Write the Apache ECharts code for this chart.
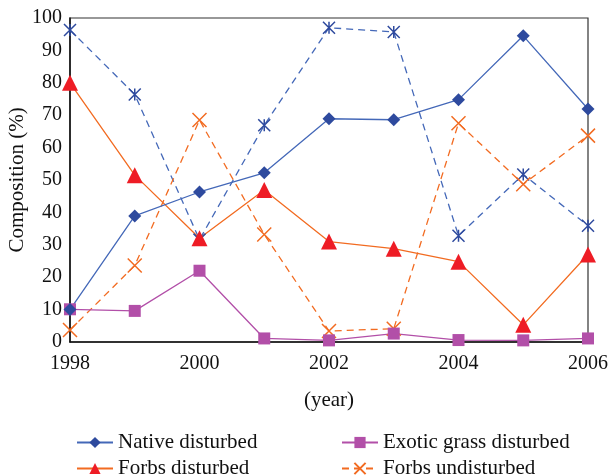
<!DOCTYPE html>
<html><head><meta charset="utf-8">
<script src="https://cdn.jsdelivr.net/npm/echarts@6/dist/echarts.min.js"></script>
<style>html,body{margin:0;padding:0;background:#fff}#c{width:609px;height:476px}</style>
</head><body><div id="c"></div>
<script>
const years = [1998, 1999, 2000, 2001, 2002, 2003, 2004, 2005, 2006];
const nativeDisturbed = [10, 38.9, 46.3, 52.2, 68.9, 68.6, 74.8, 94.5, 71.9];
const forbsDisturbed = [80, 51.5, 32, 46.9, 31, 28.8, 24.8, 5.3, 27];
const exoticGrassDisturbed = [10.1, 9.6, 22, 1.1, 0.5, 2.6, 0.6, 0.5, 1.1];
const forbsUndisturbed = [3.7, 23.6, 68.5, 33.2, 3.4, 4.1, 67.5, 48.7, 63.7];
const nativeUndisturbed = [96.3, 76.4, 31.6, 66.9, 97, 95.7, 32.8, 51.7, 35.9];
const yTicks = [0, 10, 20, 30, 40, 50, 60, 70, 80, 90, 100];
const xTicks = [1998, 2000, 2002, 2004, 2006];

const pair = arr => years.map((y, i) => [y, arr[i]]);
const FONT = 'Liberation Serif';
const blue = '#4468B8', blueDark = '#2E4A9E', orange = '#F26B21', red = '#EE1C25', mag = '#B24FA8';

const chart = echarts.init(document.getElementById('c'));
const legendCommon = {
  orient: 'vertical', top: 427, height: 80, itemWidth: 36, itemHeight: 14, itemGap: 5,
  textStyle: { fontFamily: FONT, fontSize: 21, color: '#111', lineHeight: 21 }
};
chart.setOption({
  animation: false,
  textStyle: { fontFamily: FONT },
  grid: { left: 70, right: 21, top: 18, bottom: 134, show: true, borderColor: '#333', borderWidth: 1.2,
          containLabel: false, outerBoundsMode: 'none' },
  xAxis: {
    type: 'value', min: 1998, max: 2006, interval: 2,
    name: '(year)', nameLocation: 'middle', nameGap: 48, nameMoveOverlap: false,
    nameTextStyle: { fontFamily: FONT, fontSize: 21, color: '#111' },
    axisLine: { lineStyle: { color: '#111', width: 1.5 } },
    axisTick: { show: false }, splitLine: { show: false },
    axisLabel: { fontFamily: FONT, fontSize: 20, color: '#111', margin: 12, formatter: v => xTicks.includes(v) ? String(v) : '' }
  },
  yAxis: {
    type: 'value', min: 0, max: 100, interval: 10,
    name: 'Composition (%)', nameLocation: 'middle', nameGap: 42, nameMoveOverlap: false,
    nameTextStyle: { fontFamily: FONT, fontSize: 21, color: '#111' },
    axisLine: { lineStyle: { color: '#111', width: 1.5 } },
    axisTick: { show: false }, splitLine: { show: false },
    axisLabel: { fontFamily: FONT, fontSize: 20, color: '#111', margin: 8, formatter: v => yTicks.includes(v) ? String(v) : '' }
  },
  legend: [
    Object.assign({}, legendCommon, { left: 71, data: ['Native disturbed', 'Forbs disturbed'] }),
    Object.assign({}, legendCommon, { left: 336, data: ['Exotic grass disturbed', 'Forbs undisturbed'] })
  ],
  series: [
    { name: 'Native undisturbed', type: 'line', data: pair(nativeUndisturbed),
      symbol: 'path://M0,0L10,10M10,0L0,10M5,0L5,10', symbolSize: 12,
      lineStyle: { color: blue, width: 1.3, type: [7, 5] },
      itemStyle: { color: 'transparent', borderColor: blueDark, borderWidth: 1.5 } },
    { name: 'Forbs undisturbed', type: 'line', data: pair(forbsUndisturbed),
      symbol: 'path://M0,0L10,10M10,0L0,10', symbolSize: 14,
      lineStyle: { color: orange, width: 1.3, type: [7, 5] },
      itemStyle: { color: 'transparent', borderColor: orange, borderWidth: 1.5 } },
    { name: 'Exotic grass disturbed', type: 'line', data: pair(exoticGrassDisturbed),
      symbol: 'rect', symbolSize: 12,
      lineStyle: { color: mag, width: 1.3 },
      itemStyle: { color: mag } },
    { name: 'Forbs disturbed', type: 'line', data: pair(forbsDisturbed),
      symbol: 'triangle', symbolSize: 16,
      lineStyle: { color: orange, width: 1.3 },
      itemStyle: { color: red } },
    { name: 'Native disturbed', type: 'line', data: pair(nativeDisturbed),
      symbol: 'diamond', symbolSize: 13,
      lineStyle: { color: blue, width: 1.3 },
      itemStyle: { color: blueDark } }
  ]
});
</script></body></html>
